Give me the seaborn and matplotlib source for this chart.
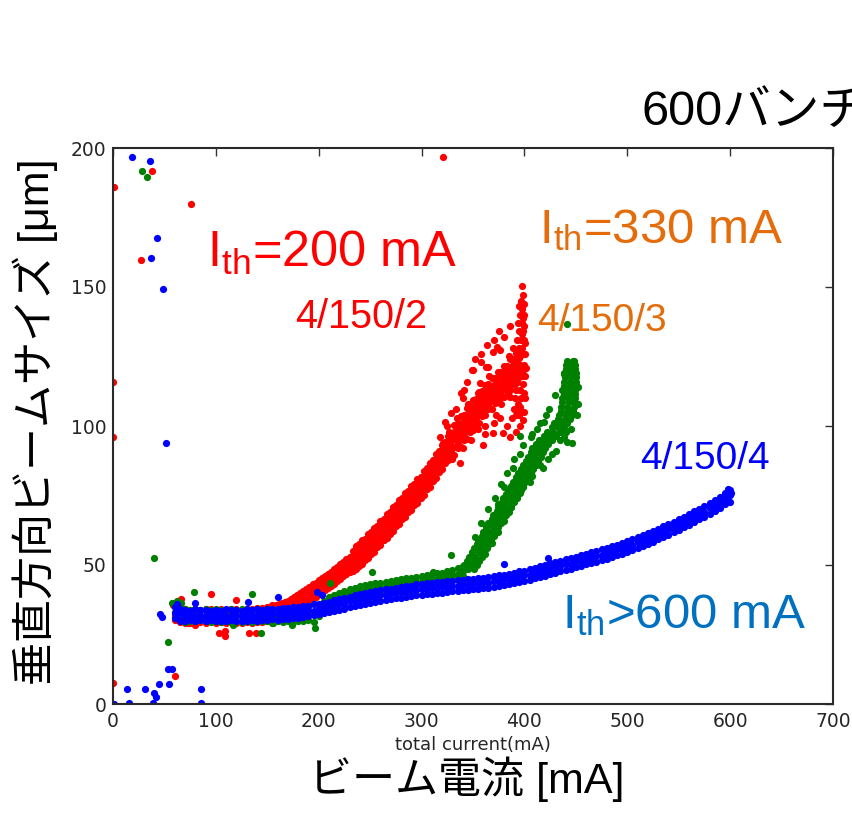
import numpy as np
import pandas as pd
import matplotlib
matplotlib.use("Agg")
import matplotlib.pyplot as plt
import seaborn as sns

# ---------------------------------------------------------------- data
# 4/150/4 (blue): beam size band, three readings per current step
blue_x = [60, 65, 70, 75, 80, 85, 90, 95, 100, 105, 110, 115, 120, 125, 130, 135, 140, 145, 150, 155,
          160, 165, 170, 175, 180, 185, 190, 195, 200, 205, 210, 215, 220, 225, 230, 235, 240, 245, 250, 255,
          260, 265, 270, 275, 280, 285, 290, 295, 300, 305, 310, 315, 320, 325, 330, 335, 340, 345, 350, 355,
          360, 365, 370, 375, 380, 385, 390, 395, 400, 405, 410, 415, 420, 425, 430, 435, 440, 445, 450, 455,
          460, 465, 470, 475, 480, 485, 490, 495, 500, 505, 510, 515, 520, 525, 530, 535, 540, 545, 550, 555,
          560, 565, 570, 575, 580, 585, 590, 595, 600]
blue_lo = [30.8, 30.0, 29.9, 30.2, 29.8, 30.1, 29.9, 30.2, 29.8, 30.0, 29.9, 30.1, 29.8, 30.0, 29.9, 30.1, 30.0, 30.2, 30.1, 30.4,
           30.3, 30.6, 30.7, 30.9, 31.0, 31.4, 31.5, 31.9, 32.2, 32.6, 33.0, 33.4, 33.8, 34.3, 34.8, 35.2, 35.6, 36.0, 36.4, 36.7,
           37.1, 37.4, 37.7, 38.0, 38.3, 38.6, 38.8, 39.1, 39.3, 39.5, 39.7, 39.9, 40.1, 40.3, 40.5, 40.7, 40.9, 41.1, 41.3, 41.5,
           41.7, 41.9, 42.1, 42.4, 42.7, 43.0, 43.4, 43.8, 44.2, 44.7, 45.2, 45.7, 46.2, 46.7, 47.2, 47.7, 48.2, 48.7, 49.2, 49.7,
           50.2, 50.7, 51.2, 51.7, 52.3, 52.9, 53.5, 54.1, 54.8, 55.5, 56.2, 56.9, 57.6, 58.4, 59.2, 60.0, 60.8, 61.7, 62.6, 63.5,
           64.4, 65.4, 66.4, 67.4, 68.4, 69.5, 70.6, 71.9, 72.5]
blue_mid = [32.9, 32.3, 31.5, 32.0, 31.6, 32.1, 31.7, 31.9, 31.6, 32.0, 31.8, 31.5, 32.0, 31.7, 31.9, 32.0, 31.8, 32.2, 32.0, 32.3,
            32.5, 32.3, 32.8, 32.7, 33.2, 33.1, 33.7, 33.6, 34.3, 34.4, 35.1, 35.2, 36.0, 36.1, 36.9, 37.0, 37.7, 37.8, 38.5, 38.5,
            39.2, 39.2, 39.8, 39.8, 40.4, 40.4, 40.9, 40.9, 41.4, 41.3, 41.8, 41.7, 42.2, 42.1, 42.6, 42.5, 43.0, 42.9, 43.4, 43.3,
            43.8, 43.7, 44.2, 44.2, 44.8, 44.8, 45.5, 45.6, 46.3, 46.5, 47.3, 47.5, 48.3, 48.5, 49.3, 49.5, 50.3, 50.5, 51.3, 51.5,
            52.3, 52.5, 53.3, 53.5, 54.4, 54.7, 55.6, 55.9, 56.9, 57.3, 58.3, 58.7, 59.7, 60.2, 61.3, 61.8, 62.9, 63.5, 64.7, 65.3,
            66.5, 67.2, 68.5, 69.2, 70.5, 71.3, 72.7, 73.7, 75.2]
blue_hi = [35.0, 34.2, 33.9, 33.6, 34.0, 33.7, 33.9, 33.5, 33.8, 33.6, 34.0, 33.7, 33.9, 33.6, 34.1, 33.8, 34.0, 33.9, 34.2, 34.0,
           34.3, 34.4, 34.5, 34.8, 35.0, 35.1, 35.4, 35.8, 36.0, 36.5, 36.8, 37.3, 37.7, 38.2, 38.6, 39.1, 39.4, 39.9, 40.2, 40.6,
           40.9, 41.3, 41.5, 41.9, 42.1, 42.5, 42.6, 43.0, 43.1, 43.4, 43.5, 43.8, 43.9, 44.2, 44.3, 44.6, 44.7, 45.0, 45.1, 45.4,
           45.5, 45.8, 45.9, 46.3, 46.5, 46.9, 47.2, 47.7, 48.0, 48.6, 49.0, 49.6, 50.0, 50.6, 51.0, 51.6, 52.0, 52.6, 53.0, 53.6,
           54.0, 54.6, 55.0, 55.6, 56.1, 56.8, 57.3, 58.0, 58.6, 59.4, 60.0, 60.8, 61.4, 62.3, 63.0, 63.9, 64.6, 65.6, 66.4, 67.4,
           68.2, 69.3, 70.2, 71.3, 72.2, 73.4, 74.4, 75.8, 77.0]
blue_extra_x = [1, 14, 16, 31, 38.6, 40, 42, 45, 54.5, 53.8, 57, 86, 86, 45.7, 47.6, 18.8, 36, 43, 37, 49,
                51.5, 62, 79.7, 131.5, 160, 198, 203, 380, 423, 598, 601, 597]
blue_extra_y = [0, 5.3, 0.3, 5.3, 0.3, 3.8, 2.4, 7.3, 7.3, 12.5, 12.5, 5.3, 0.3, 32.3, 31.4, 196.8, 195.4, 167.5, 160.5, 149.2,
                94, 36, 36.4, 36.6, 38.6, 40.4, 39.2, 50.4, 52.4, 77.5, 76, 73]

# 4/150/3 (green): flat and slowly rising part
green_x = [60, 65, 70, 75, 80, 85, 90, 95, 100, 105, 110, 115, 120, 125, 130, 135, 140, 145, 150, 155,
           160, 165, 170, 175, 180, 185, 190, 195, 200, 205, 210, 215, 220, 225, 230, 235, 240, 245, 250, 255,
           260, 265, 270, 275, 280, 285, 290, 295, 300, 305, 310, 315, 320, 325, 330, 335, 340]
green_lo = [31.0, 30.2, 29.6, 30.0, 29.7, 30.1, 29.8, 29.5, 29.9, 29.6, 30.0, 29.4, 29.8, 29.6, 30.0, 29.5, 29.9, 29.7, 30.0, 29.3,
            29.8, 29.6, 30.0, 29.4, 29.9, 29.7, 30.1, 29.6, 31.7, 33.0, 34.6, 35.8, 36.4, 37.3, 37.7, 38.4, 38.6, 39.2, 39.4, 39.9,
            40.0, 40.5, 40.6, 41.1, 41.2, 41.7, 41.8, 42.3, 42.4, 42.9, 43.0, 43.5, 43.6, 44.2, 44.5, 45.3, 45.9]
green_mid = [33.2, 32.4, 31.9, 31.6, 32.0, 31.7, 32.1, 31.6, 31.9, 31.7, 32.0, 31.6, 31.8, 32.1, 31.7, 31.9, 31.6, 32.0, 31.8, 31.7,
             32.0, 31.8, 31.6, 32.0, 31.9, 32.2, 32.4, 32.8, 33.6, 34.9, 36.6, 37.4, 38.4, 38.9, 39.7, 40.0, 40.6, 40.8, 41.4, 41.5,
             42.0, 42.1, 42.6, 42.7, 43.2, 43.3, 43.8, 43.9, 44.4, 44.5, 45.0, 45.1, 45.6, 45.8, 46.5, 46.9, 47.9]
green_hi = [36.5, 35.8, 34.2, 33.9, 34.1, 33.8, 34.0, 33.7, 34.1, 33.9, 33.6, 34.0, 33.8, 34.2, 33.7, 33.9, 34.1, 33.8, 34.0, 34.2,
            33.9, 34.1, 34.0, 34.3, 34.5, 34.9, 35.2, 35.8, 35.9, 37.2, 38.5, 39.3, 40.1, 40.8, 41.4, 41.9, 42.3, 42.7, 43.1, 43.4,
            43.7, 44.0, 44.3, 44.6, 44.9, 45.2, 45.5, 45.8, 46.1, 46.4, 46.7, 47.0, 47.3, 47.7, 48.3, 48.9, 49.7]
# 4/150/3 (green): steep part, three current readings per size level
green_rise_y = [48.5, 50.0, 51.5, 53.0, 54.5, 56.0, 57.5, 59.0, 60.5, 62.0, 63.5, 65.0, 66.5, 68.0, 69.5, 71.0, 72.5,
                74.0, 75.5, 77.0, 78.5, 80.0, 81.5, 83.0, 84.5, 86.0, 87.5, 89.0, 90.5, 92.0, 93.5, 95.0, 96.5, 98.0,
                99.5, 101.0, 102.5, 104.0, 105.5, 107.0, 108.5, 110.0, 111.5, 113.0, 114.5, 116.0, 117.5, 119.0, 120.5,
                122.0, 123.5]
green_rise_left = [339.5, 341, 344.5, 346, 349.5, 351, 354, 355, 358.5, 359.5, 363, 364.5, 368, 369.5, 373, 374.5, 378,
                   379.5, 382.5, 384, 387, 388.5, 392, 393.5, 397, 398.5, 402, 403.5, 406.5, 407.5, 411.5, 414, 419, 422,
                   426.5, 429, 433, 434, 436, 435.5, 437, 436.5, 438, 437, 438.5, 438, 439, 438.5, 440, 440, 441.5]
green_rise_mid = [345.5, 347, 350.5, 352, 355.5, 357, 360, 361, 364.5, 365.5, 369, 370.5, 374, 375.5, 379, 380.5, 384,
                  385.5, 388.5, 390, 393, 394.5, 398, 399.5, 403, 404.5, 408, 409.5, 412.5, 413.5, 417.5, 420, 425, 428,
                  432.5, 435, 439, 440, 442, 441.5, 443, 442.5, 444, 443, 444.5, 444, 445, 444.5, 446, 445.5, 447]
green_rise_right = [351, 353.5, 356, 358.5, 361, 363.5, 365.5, 367.5, 370, 372, 374.5, 377, 379.5, 382, 384.5, 387, 389.5,
                    392, 394, 396.5, 398.5, 401, 403.5, 406, 408.5, 411, 413.5, 416, 418, 420, 423, 426.5, 430.5, 434.5,
                    438, 441.5, 444.5, 446.5, 447.5, 448, 448.5, 449, 449.3, 449.6, 449.9, 450, 450, 450, 449.5, 449, 448.5]
green_extra_x = [28.5, 33, 40, 53.5, 57, 62, 66, 78.5, 117, 135, 143.6, 156, 174, 196, 211, 251.5, 285.5, 311, 328.6,
                 395.7, 419, 438, 441, 441, 446,
                 374, 380, 389, 396, 406, 412, 421, 364, 370, 385, 396, 405, 418, 427, 435, 440, 452, 452,
                 352, 358, 365, 371, 377, 383, 390, 399, 407, 415, 424, 430,
                 362, 368, 374, 380, 387, 393, 399, 407, 415, 423, 431, 438, 445, 451]
green_extra_y = [191.7, 189.7, 52.4, 22.4, 36.2, 37, 36.5, 40.2, 28.4, 39.5, 25.4, 29, 28.4, 27.3, 43.6, 47.4, 43.8, 47.4,
                 53.6, 96.5, 101.6, 118.7, 136.7, 94.4, 94,
                 72, 78, 85, 90, 96, 99, 104, 57, 61, 69, 76, 80, 85, 90, 95, 98, 108, 114,
                 60, 65, 70, 74, 79, 83, 88, 93, 97, 101, 106, 111,
                 54, 58, 62, 66, 71, 74, 78, 82, 86, 88, 91, 96, 99, 104]

# 4/150/2 (red): band, three readings per current step
red_x = [60, 65, 70, 75, 80, 85, 90, 95, 100, 105, 110, 115, 120, 125, 130, 135, 140, 145, 150, 155,
         158, 161, 164, 167, 170, 173, 176, 179, 182, 185, 188, 191, 194, 197, 200, 203, 206, 209, 212, 215,
         218, 221, 224, 227, 230, 233, 236, 239, 242, 245, 248, 251, 254, 257, 260, 263, 266, 269, 272, 275,
         278, 281, 284, 287, 290, 293, 296, 299, 302, 305, 308, 311, 314, 317, 320, 323, 326, 329, 332, 335,
         338, 341, 344, 347, 350, 353, 356, 359, 362, 365, 368, 371, 374, 377, 380, 383, 386, 389, 392, 395]
red_lo = [30.2, 29.6, 29.0, 29.3, 28.8, 29.5, 29.2, 29.7, 29.1, 29.4, 29.0, 29.6, 29.3, 29.1, 29.5, 29.2, 29.6, 29.4, 29.8, 30.0,
          30.6, 30.9, 31.3, 31.5, 32.2, 32.6, 33.5, 34.1, 35.1, 35.6, 36.6, 37.1, 38.1, 38.6, 39.6, 40.1, 41.1, 41.6, 42.6, 43.2,
          44.3, 44.9, 46.1, 46.8, 47.6, 47.8, 48.4, 49.8, 50.5, 51.9, 52.6, 54.1, 54.8, 56.5, 57.3, 58.9, 59.6, 61.3, 62.1, 63.9,
          64.7, 66.6, 67.3, 69.0, 69.7, 71.5, 72.4, 74.2, 75.2, 77.2, 78.2, 80.3, 81.4, 83.5, 84.7, 86.7, 87.7, 89.7, 89.5, 92.0,
          92.5, 95.0, 95.5, 98.0, 98.5, 100.8, 101.2, 103.5, 103.8, 106.0, 106.2, 108.4, 108.5, 110.5, 110.5, 112.7, 113.0, 115.1,
          115.5, 117.5]
red_mid = [32.0, 31.6, 31.9, 31.5, 32.1, 31.8, 31.6, 32.0, 31.7, 31.9, 31.5, 32.0, 31.8, 31.6, 32.1, 31.7, 32.0, 32.2, 32.4, 32.8,
           33.3, 33.1, 34.0, 33.9, 34.9, 35.0, 36.2, 36.5, 37.8, 38.0, 39.3, 39.5, 40.8, 41.0, 42.3, 42.5, 43.8, 44.0, 45.3, 45.7,
           47.1, 47.5, 49.0, 49.4, 50.8, 51.3, 52.9, 53.4, 55.0, 55.5, 57.1, 57.7, 59.4, 60.1, 61.8, 62.5, 64.2, 64.9, 66.7, 67.5,
           69.3, 70.2, 71.9, 72.6, 74.3, 75.1, 77.0, 77.8, 79.8, 80.8, 82.8, 83.9, 86.0, 87.1, 89.3, 90.3, 92.3, 93.3, 95.3, 96.3,
           98.3, 99.3, 101.3, 102.3, 104.3, 105.1, 107.0, 107.8, 109.6, 110.3, 112.0, 112.7, 114.3, 114.8, 116.3, 117.0, 118.7, 119.4,
           121.1, 121.8]
red_hi = [36.0, 35.2, 34.3, 33.9, 34.2, 33.8, 34.1, 34.0, 33.7, 34.2, 33.9, 34.3, 34.0, 33.8, 34.2, 34.1, 34.4, 34.6, 35.0, 35.5,
          35.5, 35.8, 36.2, 36.6, 37.1, 37.7, 38.4, 39.2, 40.0, 40.7, 41.5, 42.2, 43.0, 43.7, 44.5, 45.2, 46.0, 46.7, 47.5, 48.4,
          49.3, 50.2, 51.2, 52.1, 53.0, 55.2, 56.9, 57.4, 59.0, 59.5, 61.1, 61.7, 63.4, 64.1, 65.8, 66.5, 68.2, 68.9, 70.7, 71.5,
          73.3, 74.2, 75.9, 76.6, 78.3, 79.1, 81.0, 81.8, 83.8, 84.8, 86.8, 87.9, 90.0, 91.1, 93.3, 94.3, 96.3, 97.3, 100.5, 101.0,
          103.5, 104.0, 106.5, 107.0, 109.5, 109.8, 112.2, 112.5, 114.8, 115.0, 117.2, 117.4, 119.5, 119.5, 121.5, 121.7, 124.0, 124.1,
          126.3, 127.0]
# 4/150/2 (red): two more readings over the rising part only
red_rise_x = [158, 161, 164, 167, 170, 173, 176, 179, 182, 185, 188, 191, 194, 197, 200, 203, 206, 209, 212, 215,
              218, 221, 224, 227, 230, 233, 236, 239, 242, 245, 248, 251, 254, 257, 260, 263, 266, 269, 272, 275,
              278, 281, 284, 287, 290, 293, 296, 299, 302, 305, 308, 311, 314, 317, 320, 323, 326, 329, 332, 335,
              338, 341, 344, 347, 350, 353, 356, 359, 362, 365, 368, 371, 374, 377, 380, 383, 386, 389, 392, 395]
red_rise_a = [32.1, 31.8, 32.8, 32.5, 33.7, 33.6, 35.0, 35.1, 36.6, 36.6, 38.1, 38.1, 39.6, 39.6, 41.1, 41.1, 42.6, 42.6, 44.1, 44.3,
              45.9, 46.0, 47.7, 47.9, 49.4, 49.3, 50.8, 51.4, 52.9, 53.5, 55.0, 55.7, 57.3, 58.1, 59.7, 60.5, 62.1, 62.9, 64.6, 65.5,
              67.2, 68.2, 69.8, 70.6, 72.2, 73.1, 74.9, 75.8, 77.7, 78.8, 80.7, 81.9, 83.9, 85.1, 87.2, 88.3, 90.2, 91.3, 92.6, 94.0,
              95.6, 97.0, 98.6, 100.0, 101.6, 102.8, 104.3, 105.5, 106.9, 108.0, 109.3, 110.4, 111.6, 112.5, 113.6, 114.7, 116.0, 117.1,
              118.5, 119.5]
red_rise_b = [34.3, 34.6, 35.0, 35.4, 35.9, 36.5, 37.2, 38.0, 38.8, 39.5, 40.3, 41.0, 41.8, 42.5, 43.3, 44.0, 44.8, 45.5, 46.3, 47.2,
              48.1, 49.0, 50.0, 50.9, 51.8, 53.4, 54.8, 55.6, 56.9, 57.7, 59.0, 59.9, 61.3, 62.3, 63.7, 64.7, 66.1, 67.1, 68.6, 69.7,
              71.2, 72.4, 73.8, 74.8, 76.2, 77.3, 78.9, 80.0, 81.7, 83.0, 84.7, 86.1, 87.9, 89.3, 91.2, 92.5, 94.2, 95.5, 97.8, 98.8,
              100.8, 101.8, 103.8, 104.8, 106.8, 107.6, 109.5, 110.3, 112.1, 112.8, 114.5, 115.2, 116.8, 117.3, 118.8, 119.5, 121.2, 121.9,
              123.6, 124.5]
red_extra_x = [1, 0, 0, 0, 37.6, 27.5, 75.5, 321, 60, 58, 66, 73, 80, 95, 120, 102.7, 109, 109, 132, 139,
               350, 369.7, 376, 363, 329, 321, 337, 369.7, 379.5, 395.7, 356.8, 386, 382.7, 373, 348.7, 365, 322.8, 340,
               345, 358, 362, 372, 385, 388, 366, 355, 341, 330, 377, 384,
               396, 398, 397, 399, 398, 396, 398, 397, 399, 398, 400, 401, 399, 400, 397, 394, 401, 400, 395, 395, 393,
               400, 401, 399, 397, 396, 393, 392, 395, 396, 400,
               391, 392, 393, 394, 395, 396, 397, 398, 399, 400, 401, 402, 394, 398, 400, 392, 396, 399,
               318, 325, 333, 338, 344, 352, 358, 364, 370, 375, 380, 386, 389, 334, 327,
               330, 340, 348, 355, 362, 370, 376, 383, 390, 392, 386, 360]
red_extra_y = [186, 116, 96, 7.5, 191.7, 159.6, 179.7, 196.8, 10.2, 35.5, 37.7, 29, 28.5, 39.5, 37.4, 25.4, 26.4, 24.3, 25.4,
               25.4,
               120, 126.7, 127.3, 121.3, 104.6, 93.8, 86.6, 97.4, 97.4, 105, 115.3, 110.5, 120, 128.5, 120, 121.3, 101.5, 110,
               108, 123, 100, 104, 125, 103, 118, 112, 113, 97, 108, 112,
               125, 128, 131, 134, 137, 140, 142, 145, 147, 150.5, 122, 118, 115, 112, 110, 108, 130, 136, 134, 128, 125,
               140, 126, 120, 118, 113, 116, 113, 104, 100, 105,
               110, 119, 131, 137, 143, 122, 127, 133, 139, 144, 110, 121, 127, 118, 131, 104, 107, 102,
               96, 100, 106, 112, 116, 124, 126, 129, 131, 134, 132, 136, 128, 103, 98,
               88, 92, 95, 99, 97, 101, 103, 100, 106, 98, 96, 93]

x_ticks = [0, 100, 200, 300, 400, 500, 600, 700]
y_ticks = [0, 50, 100, 150, 200]


def band_frame(xs, *rows):
    """Stack several readings taken at the same currents into one long table."""
    xs = np.asarray(xs, dtype=float)
    return pd.DataFrame({"current": np.tile(xs, len(rows)),
                         "size": np.concatenate([np.asarray(r, dtype=float) for r in rows])})


def points_frame(xs, ys):
    return pd.DataFrame({"current": np.asarray(xs, dtype=float), "size": np.asarray(ys, dtype=float)})


red_df = pd.concat([band_frame(red_x, red_lo, red_mid, red_hi),
                    band_frame(red_rise_x, red_rise_a, red_rise_b),
                    points_frame(red_extra_x, red_extra_y)], ignore_index=True)
green_df = pd.concat([band_frame(green_x, green_lo, green_mid, green_hi),
                      points_frame(np.concatenate([green_rise_left, green_rise_mid, green_rise_right]),
                                   np.tile(green_rise_y, 3)),
                      points_frame(green_extra_x, green_extra_y)], ignore_index=True)
blue_df = pd.concat([band_frame(blue_x, blue_lo, blue_mid, blue_hi),
                     points_frame(blue_extra_x, blue_extra_y)], ignore_index=True)

# ---------------------------------------------------------------- style
sns.set_theme(style="white")
jp_family = ["Liberation Sans", "Noto Sans CJK JP", "DejaVu Sans"]
plt.rcParams["font.family"] = jp_family
plt.rcParams["text.color"] = "black"
plt.rcParams["mathtext.fontset"] = "custom"
plt.rcParams["mathtext.rm"] = "Liberation Sans"
plt.rcParams["mathtext.it"] = "Liberation Sans:italic"
plt.rcParams["mathtext.bf"] = "Liberation Sans:bold"

W, H = 852, 819
fig = plt.figure(figsize=(W / 100, H / 100), dpi=100)
fig.patch.set_facecolor("white")
ax = fig.add_axes([113 / W, 1 - 704 / H, 720 / W, 556 / H])
ax.set_facecolor("white")

marker_kw = dict(s=27, linewidth=0, legend=False, ax=ax)
sns.scatterplot(data=red_df, x="current", y="size", color="#ff0000", **marker_kw)
sns.scatterplot(data=green_df, x="current", y="size", color="#008000", **marker_kw)
sns.scatterplot(data=blue_df, x="current", y="size", color="#0000ff", **marker_kw)

ax.set_xlim(0, 700)
ax.set_ylim(0, 200)
ax.set_xticks(x_ticks)
ax.set_yticks(y_ticks)
ax.set_xticklabels([str(v) for v in x_ticks], family="DejaVu Sans")
ax.set_yticklabels([str(v) for v in y_ticks], family="DejaVu Sans")
ax.tick_params(direction="in", top=True, right=True, length=5.5, width=1.0,
               color="#333333", labelsize=13.5, labelcolor="#262626")
ax.tick_params(axis="x", pad=6)
ax.tick_params(axis="y", pad=4.5)
for sp in ax.spines.values():
    sp.set_visible(True)
    sp.set_linewidth(1.5)
    sp.set_color("#2a2a2a")
ax.grid(False)
ax.set_xlabel("total current(mA)", fontsize=13, family="DejaVu Sans", color="#262626", labelpad=3)
ax.set_ylabel("")


def fig_text(px, py, s, **kw):
    """Place text using pixel positions measured from the top-left corner."""
    return fig.text(px / W, 1 - py / H, s, **kw)


# big Japanese axis titles and heading
fig_text(467, 779, "ビーム電流 [mA]", fontsize=31, ha="center", va="center", family=jp_family, color="black")
fig_text(35, 422, "垂直方向ビームサイズ [μm]", fontsize=31, ha="center", va="center",
         rotation=90, family=jp_family, color="black")
fig_text(641, 125, "600バンチ", fontsize=35, ha="left", va="baseline", family=jp_family, color="black")

# threshold annotations
fig_text(207, 267, r"$\mathrm{I_{th}}$=200 mA", fontsize=36.3, color="#ff0000", va="baseline")
fig_text(295, 328, "4/150/2", fontsize=28.5, color="#ff0000", va="baseline")
fig_text(539, 243, r"$\mathrm{I_{th}}$=330 mA", fontsize=35.5, color="#e46c0a", va="baseline")
fig_text(537, 331, "4/150/3", fontsize=28, color="#e46c0a", va="baseline")
fig_text(640, 469, "4/150/4", fontsize=28, color="#0000ff", va="baseline")
fig_text(562, 628, r"$\mathrm{I_{th}}$>600 mA", fontsize=35.5, color="#0070c0", va="baseline")

fig.savefig("out.png", dpi=100, facecolor="white")
